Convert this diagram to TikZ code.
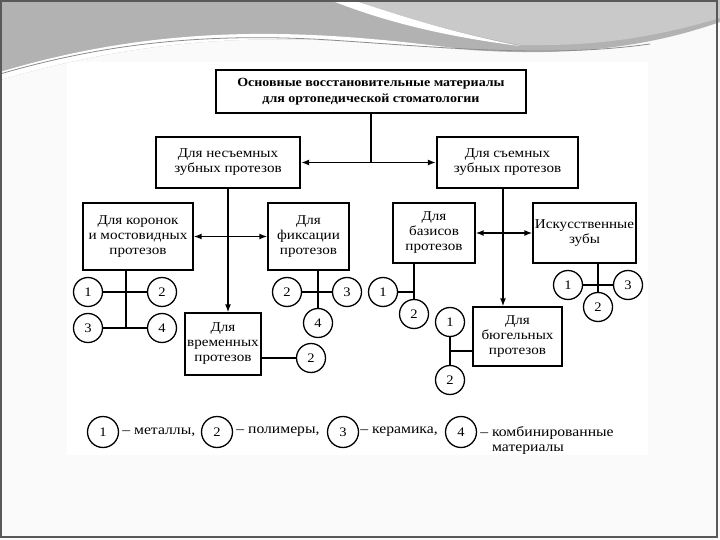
\documentclass[tikz,border=0pt]{standalone}
\usepackage{fontspec}
\setmainfont{Liberation Serif}[FakeStretch=1.12]
\usetikzlibrary{arrows.meta,positioning}

\begin{document}
\begin{tikzpicture}[x=1pt,y=-1pt,
    box/.style={draw,line width=1.3pt,align=center,inner sep=0pt,font=\fontsize{13.5}{15}\selectfont},
    mainbox/.style={box,line width=2.2pt},
    mat/.style={circle,draw,fill=white,line width=1.3pt,minimum size=29pt,inner sep=0pt,font=\fontsize{13}{14}\selectfont},
    link/.style={line width=1.5pt},
    arr/.style={line width=1.7pt,-{Latex[length=8pt,width=6pt]}},
    darr/.style={line width=1.7pt,{Latex[length=8pt,width=6pt]}-{Latex[length=8pt,width=6pt]}},
    legend/.style={font=\fontsize{14}{15}\selectfont,inner sep=0pt}]

    % Slide background
    \useasboundingbox (0,0) rectangle (720,540);
    \fill[black!2] (0,0) rectangle (720,540);
    \fill[white] (67,62) rectangle (648,455);

    % Swoosh on top
    \fill[black!30] (0,0) -- (720,0) -- (720,22) .. controls (640,50) and (560,56) .. (470,50)
        .. controls (330,40) and (200,22) .. (0,80) -- cycle;
    \fill[black!21] (352,0) -- (720,0) -- (720,18) .. controls (640,42) and (580,46) .. (520,45)
        .. controls (440,30) and (390,12) .. cycle;
    \fill[white] (330,0) .. controls (380,20) and (440,36) .. (520,46)
        .. controls (440,30) and (390,12) .. (352,0) -- cycle;
    \fill[white] (0,80) .. controls (200,22) and (330,40) .. (470,50)
        .. controls (330,32) and (180,18) .. (0,72) -- cycle;
    \draw[black!45,line width=0.8pt] (0,74) .. controls (100,45) and (200,32) .. (330,40)
        .. controls (450,48) and (550,58) .. (650,44);
    \draw[black!65,line width=1.5pt] (1,1) rectangle (717,537);

    % Boxes
    \node[mainbox,minimum width=310pt,minimum height=43pt,font=\bfseries\fontsize{12.5}{16}\selectfont] (main) at (371,91.5)
        {Основные восстановительные материалы\\для ортопедической стоматологии};
    \node[mainbox,minimum width=144pt,minimum height=51pt] (fixed) at (228,162.5) {Для несъемных\\зубных протезов};
    \node[mainbox,minimum width=141pt,minimum height=51pt] (remov) at (507.5,162.5) {Для съемных\\зубных протезов};
    \node[box,minimum width=110pt,minimum height=67pt] (crown) at (138,236.5) {Для коронок\\и мостовидных\\протезов};
    \node[box,minimum width=81pt,minimum height=67pt] (fix) at (308.5,236.5) {Для\\фиксации\\протезов};
    \node[box,minimum width=76pt,minimum height=62pt] (temp) at (223,344) {Для\\временных\\протезов};
    \node[box,minimum width=82pt,minimum height=60pt] (base) at (434,233) {Для\\базисов\\протезов};
    \node[box,minimum width=103pt,minimum height=60pt] (teeth) at (584.5,233) {Искусственные\\зубы};
    \node[box,minimum width=89pt,minimum height=59pt] (clasp) at (517.5,336.5) {Для\\бюгельных\\протезов};

    % Arrows between boxes
    \draw[link,line width=1.7pt] (main.south) -- (main.south |- fixed.east);
    \draw[darr] (fixed.east) -- (remov.west);
    \draw[arr] (fixed.south) -- (fixed.south |- temp.north);
    \draw[darr] (crown.east) -- (fix.west);
    \draw[arr] ([xshift=-4.5pt]remov.south) -- ([xshift=-4.5pt]remov.south |- clasp.north);
    \draw[darr] (base.east) -- (teeth.west);

    % Materials for crowns
    \node[mat] (c1) at (88,292) {1};
    \node[mat] (c2) at (162,292) {2};
    \node[mat] (c3) at (88,328) {3};
    \node[mat] (c4) at (162,328) {4};
    \coordinate (cb) at (126,328);
    \draw[link] ([xshift=-12pt]crown.south) -- (cb);
    \draw[link] (c1) -- (c2);
    \draw[link] (c3) -- (c4);

    % Materials for fixation
    \node[mat] (f2) at (287,292) {2};
    \node[mat] (f3) at (347,292) {3};
    \node[mat] (f4) at (318,323) {4};
    \draw[link] ([xshift=9.5pt]fix.south) -- (f4);
    \draw[link] (f2) -- (f3);

    % Materials for temporary
    \node[mat] (t2) at (311,358) {2};
    \draw[link] ([yshift=-14pt]temp.east) -- (t2);

    % Materials for bases
    \node[mat] (b1) at (383,292) {1};
    \node[mat] (b2) at (414,314) {2};
    \draw[link] ([xshift=-20pt]base.south) -- (b2);
    \draw[link] (b1) -- (b1 -| b2);

    % Materials for clasp
    \node[mat] (k1) at (450,322) {1};
    \node[mat] (k2) at (450,380) {2};
    \coordinate (km) at (450,351);
    \draw[link] (k1) -- (k2);
    \draw[link] (km) -- (km -| clasp.west);

    % Materials for artificial teeth
    \node[mat] (a1) at (568,285) {1};
    \node[mat] (a3) at (628,285) {3};
    \node[mat] (a2) at (598,307) {2};
    \draw[link] ([xshift=13.5pt]teeth.south) -- (a2);
    \draw[link,line width=1.9pt] (a1) -- (a3);

    % Legend
    \node[mat,minimum size=31pt] (l1) at (103,432) {1};
    \node[mat,minimum size=31pt] (l2) at (217,432) {2};
    \node[mat,minimum size=31pt] (l3) at (343,432) {3};
    \node[mat,minimum size=31pt] (l4) at (461,432) {4};
    \node[legend,right=3pt of l1] (m1) {– металлы,};
    \node[legend,right=3pt of l2] (m2) {– полимеры,};
    \node[legend,right=1pt of l3] (m3) {– керамика,};
    \node[legend,anchor=north west] (m4) at ([xshift=3pt,yshift=6pt]l4.east)
        {\begin{tabular}{@{}l@{ }l@{}}– & комбинированные\\ & материалы\end{tabular}};
\end{tikzpicture}
\end{document}
